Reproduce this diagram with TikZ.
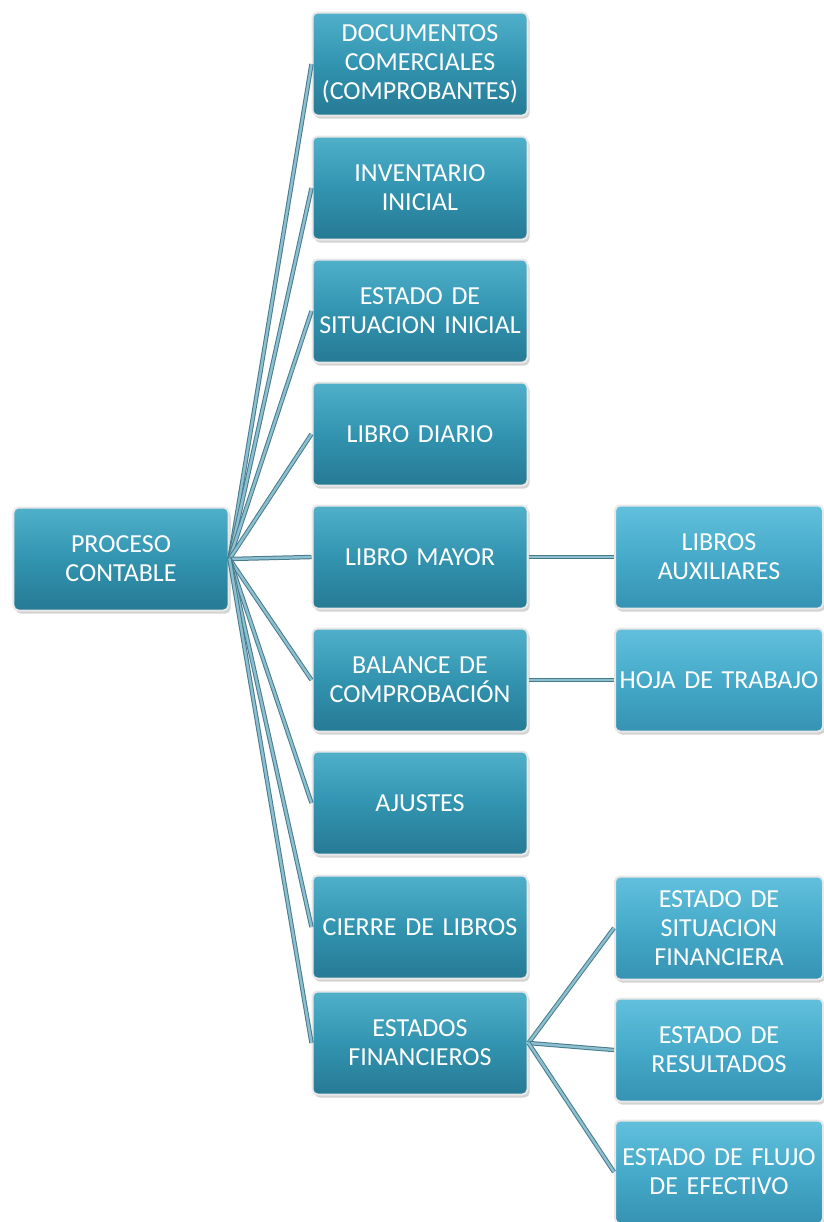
\documentclass[tikz,border=0pt]{standalone}
\usepackage{fontspec}
\setmainfont{Carlito}
\usetikzlibrary{shadows}
\definecolor{boxmid}{RGB}{50,148,176}
\definecolor{boxtop}{RGB}{80,176,202}
\definecolor{boxlo}{RGB}{38,122,148}
\definecolor{rboxmid}{RGB}{70,170,202}
\definecolor{rboxtop}{RGB}{98,192,220}
\definecolor{rboxlo}{RGB}{54,146,178}
\definecolor{conndark}{RGB}{72,122,138}
\definecolor{connlight}{RGB}{140,192,208}
\tikzset{
  base/.style={rounded corners=5bp, draw=white!82!gray, line width=2bp,
    minimum width=215bp, minimum height=103bp, text width=213bp, inner xsep=0bp, align=center,
    text=white, font=\fontsize{26bp}{29bp}\selectfont,
    drop shadow={shadow xshift=2bp, shadow yshift=-3bp, opacity=0.35, fill=gray}},
  midbox/.style={base, top color=boxtop, bottom color=boxlo, middle color=boxmid},
  rbox/.style={base, minimum width=208bp, text width=206bp, top color=rboxtop, bottom color=rboxlo, middle color=rboxmid},
  conn/.style={draw=conndark, double=connlight, double distance=2.4bp, line width=1bp}
}
\begin{document}
\begin{tikzpicture}[x=1bp,y=-1bp]
\useasboundingbox (0,0) rectangle (824,1222);
\node[midbox] (root) at (121,559) {PROCESO\\CONTABLE};
\node[midbox] (m1) at (420,64) {DOCUMENTOS\\COMERCIALES\\(COMPROBANTES)};
\node[midbox] (m2) at (420,188) {INVENTARIO\\INICIAL};
\node[midbox] (m3) at (420,311) {ESTADO DE\\SITUACION INICIAL};
\node[midbox] (m4) at (420,434) {LIBRO DIARIO};
\node[midbox] (m5) at (420,557) {LIBRO MAYOR};
\node[midbox] (m6) at (420,680) {BALANCE DE\\COMPROBACIÓN};
\node[midbox] (m7) at (420,803) {AJUSTES};
\node[midbox] (m8) at (420,927) {CIERRE DE LIBROS};
\node[midbox] (m9) at (420,1043) {ESTADOS\\FINANCIEROS};
\node[rbox] (r1) at (719,557) {LIBROS\\AUXILIARES};
\node[rbox] (r2) at (719,680) {HOJA DE TRABAJO};
\node[rbox] (r3) at (719,928) {ESTADO DE\\SITUACION\\FINANCIERA};
\node[rbox] (r4) at (719,1050) {ESTADO DE\\RESULTADOS};
\node[rbox] (r5) at (719,1172) {ESTADO DE FLUJO\\DE EFECTIVO};
\foreach \m in {m1,m2,m3,m4,m5,m6,m7,m8,m9}
  \draw[conn] (root.east) -- (\m.west);
\draw[conn] (m5.east) -- (r1.west);
\draw[conn] (m6.east) -- (r2.west);
\draw[conn] (m9.east) -- (r3.west);
\draw[conn] (m9.east) -- (r4.west);
\draw[conn] (m9.east) -- (r5.west);
\end{tikzpicture}
\end{document}
